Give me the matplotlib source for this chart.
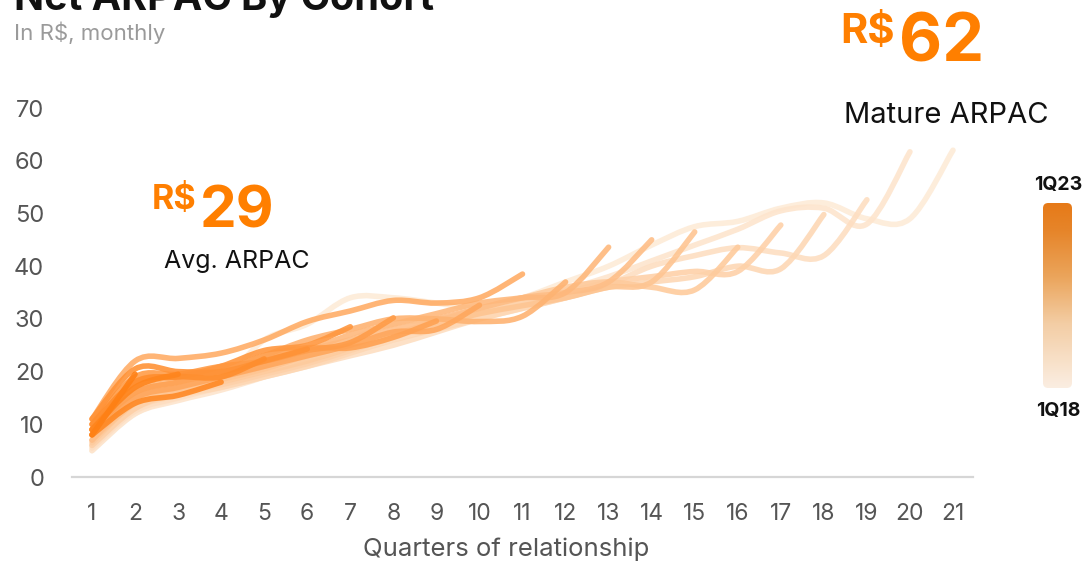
import numpy as np
import matplotlib
matplotlib.use("Agg")
import matplotlib.pyplot as plt
from matplotlib.path import Path
from matplotlib.patches import PathPatch, FancyBboxPatch
from matplotlib.colors import LinearSegmentedColormap

plt.rcParams['font.family'] = ['Inter', 'DejaVu Sans']

# ---------------- data ----------------
cohorts = ["1Q18", "2Q18", "3Q18", "4Q18", "1Q19", "2Q19", "3Q19", "4Q19",
           "1Q20", "2Q20", "3Q20", "4Q20", "1Q21", "2Q21", "3Q21", "4Q21",
           "1Q22", "2Q22", "3Q22", "4Q22", "1Q23"]
quarters = list(range(1, 22))

c_1Q18 = [5, 12, 15, 18, 26, 29, 34, 34, 33, 32, 34, 37, 40, 44, 47.5, 48.5, 51, 52, 49, 49, 62]
c_2Q18 = [5, 12, 14.5, 16.5, 19, 22, 26, 29, 30, 31, 33, 35.5, 38, 41, 44, 47, 50.5, 51, 48, 61.7]
c_3Q18 = [5.5, 12.5, 15, 17, 19, 21, 23, 25, 27.5, 30, 32, 34, 36.5, 40, 42, 43.5, 42.5, 42, 52.6]
c_4Q18 = [6, 13, 15.5, 17, 19, 21, 23.5, 26, 28, 30, 32, 34, 36, 37, 38, 40, 39.5, 49.8]
c_1Q19 = [6, 13, 16, 17.5, 19.5, 21.5, 24, 26.5, 29, 31, 33, 35, 37, 38, 39, 39, 47.8]
c_2Q19 = [6.5, 14, 16, 18, 20, 22, 24.5, 27, 29.5, 32, 34, 36, 37, 36, 35.5, 43.6]
c_3Q19 = [7, 14, 16.5, 18.5, 20.5, 23, 25, 27, 29, 31, 32.5, 34, 36, 37, 46.5]
c_4Q19 = [7, 15, 17, 19, 21, 24, 26, 28, 30, 32, 34, 35, 37, 45]
c_1Q20 = [8, 16, 18, 19.5, 22, 24, 27, 29, 31, 33, 34, 35, 43.6]
c_2Q20 = [9, 17, 19, 20, 23, 26, 28, 30, 30, 29.5, 30.5, 37]
c_3Q20 = [11, 22, 22.5, 23.5, 26, 29.5, 31.5, 33.5, 33, 34, 38.5]
c_4Q20 = [8, 15, 17, 19, 21, 23, 25, 27.5, 28, 32.6]
c_1Q21 = [9, 16, 18, 20, 23, 24.5, 24.5, 26.5, 29.6]
c_2Q21 = [10, 19, 19.5, 21, 22, 24, 25.5, 30.2]
c_3Q21 = [9, 18, 19, 21, 24, 25, 28.5]
c_4Q21 = [11, 20.5, 20, 20, 22, 24.3]
c_1Q22 = [10, 18, 19, 19, 22.4]
c_2Q22 = [8, 14, 15.5, 18]
c_3Q22 = [9, 17, 19.5]
c_4Q22 = [8, 19.5]
c_1Q23 = [9.5]

series = [c_1Q18, c_2Q18, c_3Q18, c_4Q18, c_1Q19, c_2Q19, c_3Q19, c_4Q19,
          c_1Q20, c_2Q20, c_3Q20, c_4Q20, c_1Q21, c_2Q21, c_3Q21, c_4Q21,
          c_1Q22, c_2Q22, c_3Q22, c_4Q22, c_1Q23]

yticks = [0, 10, 20, 30, 40, 50, 60, 70]

# ---------------- figure ----------------
W, H = 1089, 562
fig = plt.figure(figsize=(W / 100, H / 100), dpi=100)
fig.patch.set_facecolor("white")


def fx(px):
    return px / W


def fy(py):
    return 1 - py / H


ax = fig.add_axes([fx(72), fy(477), 901 / W, (477 - 97.5) / H])
ax.set_xlim(1 - 20 / 43.05, 21 + 20 / 43.05)
ax.set_ylim(0, 72)
for s in ["top", "right", "left"]:
    ax.spines[s].set_visible(False)
ax.spines["bottom"].set_color("#d6d6d6")
ax.spines["bottom"].set_linewidth(1.6)
ax.set_xticks(quarters)
ax.set_xticklabels([str(q) for q in quarters])
ax.set_yticks(yticks)
ax.set_yticklabels([str(v) for v in yticks])
ax.tick_params(axis="both", length=0, colors="#555555")
ax.tick_params(axis="x", labelsize=16.5, pad=19)
ax.tick_params(axis="y", labelsize=17, pad=20)
ax.set_xlabel("Quarters of relationship", fontsize=18.5, color="#555555")
ax.xaxis.set_label_coords((506 - 72) / 901, -(556 - 477) / 379.5)
ax.xaxis.label.set_va("baseline")

line_cmap = LinearSegmentedColormap.from_list(
    "coh", ["#fdebd8", "#fec08a", "#ff9a45", "#ff7c0c"])


def smooth_path(xs, ys):
    pts = np.column_stack([xs, ys]).astype(float)
    n = len(pts)
    verts = [pts[0]]
    codes = [Path.MOVETO]
    for i in range(n - 1):
        p0 = pts[i - 1] if i > 0 else pts[i]
        p1 = pts[i]
        p2 = pts[i + 1]
        p3 = pts[i + 2] if i + 2 < n else pts[i + 1]
        c1 = p1 + (p2 - p0) / 6.0
        c2 = p2 - (p3 - p1) / 6.0
        verts += [c1, c2, p2]
        codes += [Path.CURVE4, Path.CURVE4, Path.CURVE4]
    return Path(verts, codes)


ncoh = len(cohorts)
for i, vals in enumerate(series):
    if len(vals) < 2:
        continue
    xs = quarters[:len(vals)]
    col = line_cmap(i / (ncoh - 1))
    patch = PathPatch(smooth_path(xs, vals), fill=False, edgecolor=col,
                      lw=4.0, capstyle="round", joinstyle="round",
                      alpha=0.9, zorder=2 + i, clip_on=False)
    ax.add_patch(patch)

# ---------------- texts ----------------
orange = "#ff7f00"
fig.text(fx(14), fy(10), "Net ARPAC By Cohort", fontsize=28.5, fontweight="bold",
         color="#111111", ha="left", va="baseline")
fig.text(fx(14), fy(40), "In R\\$, monthly", fontsize=16, color="#9a9a9a",
         ha="left", va="baseline")

fig.text(fx(152), fy(209), "R\\$", fontsize=24.5, fontweight="bold", color=orange,
         ha="left", va="baseline")
fig.text(fx(200), fy(227), "29", fontsize=42, fontweight="bold", color=orange,
         ha="left", va="baseline")
fig.text(fx(164), fy(268), "Avg. ARPAC", fontsize=18, color="#111111",
         ha="left", va="baseline")

fig.text(fx(840), fy(43), "R\\$", fontsize=30, fontweight="bold", color=orange,
         ha="left", va="baseline")
fig.text(fx(899), fy(62), "62", fontsize=48, fontweight="bold", color=orange,
         ha="left", va="baseline")
fig.text(fx(844), fy(123), "Mature ARPAC", fontsize=21, color="#111111",
         ha="left", va="baseline")

# ---------------- colour legend bar ----------------
cax = fig.add_axes([fx(1043), fy(388), 29 / W, 185 / H])
cax.axis("off")
bar_cmap = LinearSegmentedColormap.from_list(
    "bar", [(0.0, "#fbeee2"), (0.35, "#f3cda4"), (0.6, "#eba55c"),
            (0.85, "#e6852a"), (1.0, "#e67a18")])
grad = np.linspace(0, 1, 256).reshape(-1, 1)
im = cax.imshow(grad, extent=[0, 1, 0, 1], origin="lower", aspect="auto",
                cmap=bar_cmap)
clip = FancyBboxPatch((0, 0), 1, 1, boxstyle="round,pad=0,rounding_size=0.18",
                      mutation_aspect=29 / 185, transform=cax.transAxes,
                      facecolor="none", edgecolor="none")
cax.add_patch(clip)
im.set_clip_path(clip)
fig.text(fx(1058), fy(190), cohorts[-1], fontsize=14, fontweight="bold",
         color="#111111", ha="center", va="baseline")
fig.text(fx(1058), fy(416), cohorts[0], fontsize=14, fontweight="bold",
         color="#111111", ha="center", va="baseline")

fig.savefig("out.png", dpi=100, facecolor="white")
